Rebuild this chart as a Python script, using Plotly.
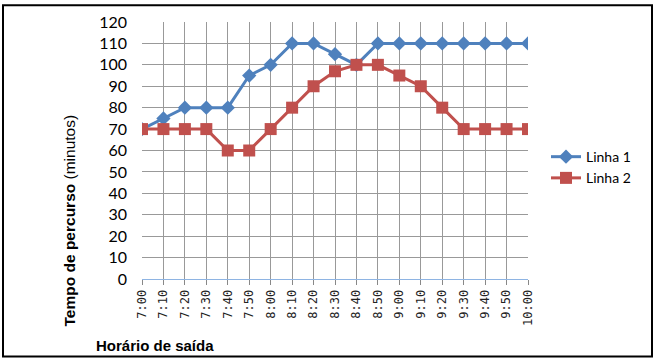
import plotly.graph_objects as go

horarios = ["7:00", "7:10", "7:20", "7:30", "7:40", "7:50", "8:00", "8:10", "8:20", "8:30",
            "8:40", "8:50", "9:00", "9:10", "9:20", "9:30", "9:40", "9:50", "10:00"]
linha1 = [70, 75, 80, 80, 80, 95, 100, 110, 110, 105, 100, 110, 110, 110, 110, 110, 110, 110, 110]
linha2 = [70, 70, 70, 70, 60, 60, 70, 80, 90, 97, 100, 100, 95, 90, 80, 70, 70, 70, 70]
yticks = list(range(0, 121, 10))

L, R, T, B = 142, 127, 20, 82
W, H = 655, 361
pw, ph = W - L - R, H - T - B

def px(x):
    return (x - L) / pw

def py(y):
    return (H - B - y) / ph

fig = go.Figure()
fig.add_trace(go.Scatter(x=horarios, y=linha1, name="Linha 1", mode="lines+markers",
                         line=dict(color="#4F81BD", width=3),
                         marker=dict(symbol="diamond", size=11, color="#4F81BD")))
fig.add_trace(go.Scatter(x=horarios, y=linha2, name="Linha 2", mode="lines+markers",
                         line=dict(color="#C0504D", width=3),
                         marker=dict(symbol="square", size=12, color="#C0504D")))

fig.update_layout(
    width=W, height=H,
    margin=dict(l=L, r=R, t=T, b=B),
    paper_bgcolor="white", plot_bgcolor="white",
    font=dict(family="Lato, Liberation Sans, sans-serif", size=13, color="#000"),
    showlegend=True,
    legend=dict(x=px(546), y=py(140), xanchor="left", yanchor="top",
                font=dict(family="Lato", size=14), tracegroupgap=0,
                itemwidth=30, bgcolor="rgba(0,0,0,0)"),
    xaxis=dict(type="category", range=[0, len(horarios) - 1], tickangle=-90,
               showgrid=True, gridcolor="#999", gridwidth=1,
               showline=True, linecolor="#8EB4E3", linewidth=1,
               ticks="outside", ticklen=5, tickcolor="#888",
               tickfont=dict(family="DejaVu Sans Mono, monospace", size=12, color="#222"),
               zeroline=False, fixedrange=True),
    yaxis=dict(range=[0, 120], tickvals=yticks, showgrid=True, gridcolor="#999", gridwidth=1,
               showline=False, zeroline=False, ticks="", ticklabelstandoff=14,
               tickfont=dict(family="Lato", size=16, color="#000"), fixedrange=True),
    shapes=[dict(type="rect", xref="paper", yref="paper",
                 x0=px(3), x1=px(652), y0=py(357), y1=py(3),
                 line=dict(color="black", width=2), fillcolor="rgba(0,0,0,0)")],
    annotations=[
        dict(text="<b>Tempo de percurso</b> (minutos)", xref="paper", yref="paper",
             x=px(69), y=py(220), xanchor="center", yanchor="middle",
             textangle=-90, showarrow=False,
             font=dict(family="Liberation Sans", size=15.5, color="#000")),
        dict(text="<b>Horário de saída</b>", xref="paper", yref="paper",
             x=px(94), y=py(346), xanchor="left", yanchor="middle", showarrow=False,
             font=dict(family="Liberation Sans", size=15, color="#000")),
    ],
)

fig.write_html("out.html", config={"displayModeBar": False},
               post_script="document.body.style.margin='0';")
